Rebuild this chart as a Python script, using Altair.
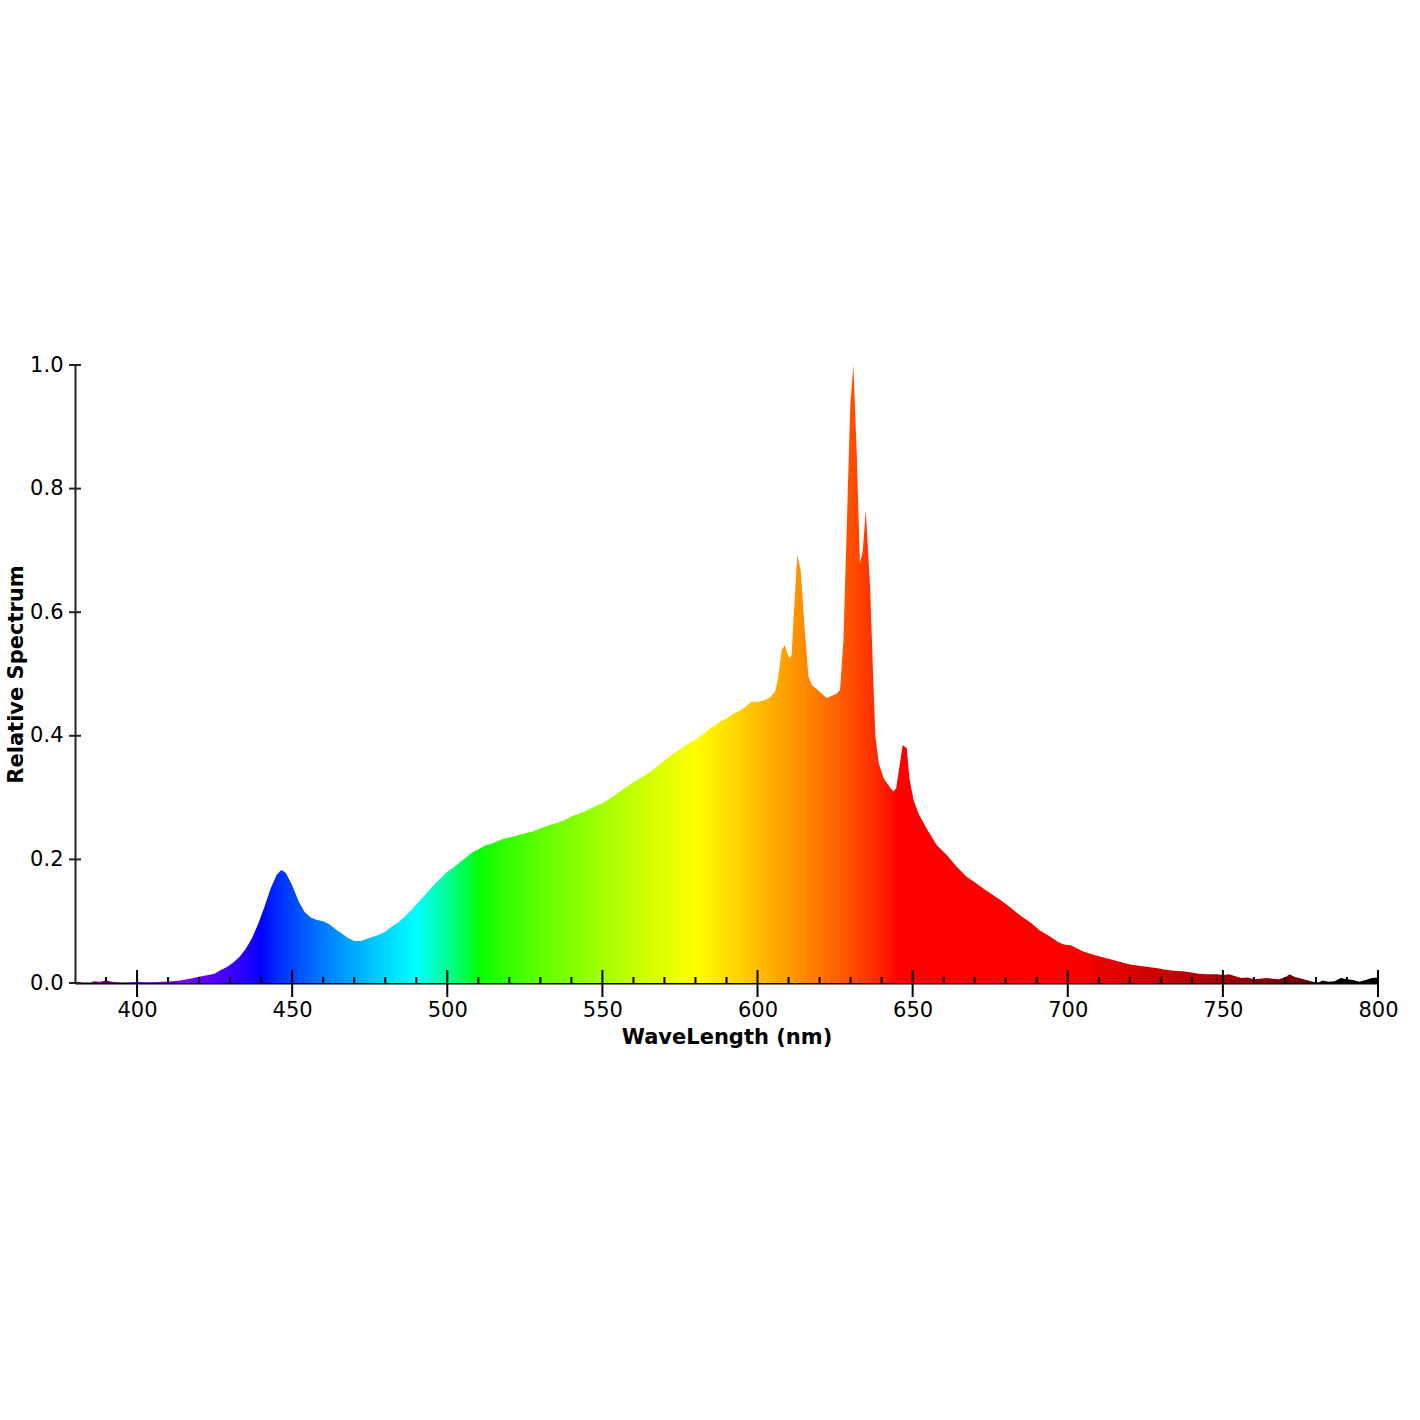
import altair as alt
import pandas as pd

# ---- data ----
wavelength = [385, 386, 388, 390, 392, 395, 398, 400, 403, 405, 408, 411, 414, 417, 420, 423, 425, 427, 429, 431,
              433, 435, 437, 439, 441, 443, 445, 446.5, 448, 450, 452, 454, 456, 458, 460, 462, 464, 466, 468, 470,
              472, 474, 476, 478, 480, 482, 484, 486, 488, 490, 492, 494, 496, 498, 500, 502, 504, 506, 508, 510,
              512, 514, 516, 518, 520, 522, 524, 526, 528, 530, 532, 534, 536, 538, 540, 542, 544, 546, 548, 550,
              552, 554, 556, 558, 560, 562, 564, 566, 568, 570, 572, 574, 576, 578, 580, 582, 584, 586, 588, 590,
              592, 594, 596, 598, 600, 602, 604, 605.6, 606.5, 607.8, 608.8, 610.2, 611, 611.5, 612.8, 613.9, 615.3,
              616.4, 617.5, 620.1, 622.3, 625.5, 626.6, 627.7, 628.8, 629.9, 630.9, 632, 633, 633.9, 634.9, 636.3,
              637.4, 638, 639.1, 640.7, 642.9, 643.8, 644.7, 646.8, 648.1, 649, 650.3, 651.8, 654.5, 657.8, 661,
              664.2, 667.4, 670, 673, 676, 679, 682, 685, 688, 691, 694, 697, 699, 701, 703, 705, 708, 711, 714,
              717, 720, 723, 726, 729, 731, 734, 737, 740, 742, 745, 748, 750, 752, 754, 756, 758, 760, 762, 764,
              766, 768, 770, 771.5, 773, 776, 779, 781, 782, 784, 786, 788, 790, 792, 794, 796, 798, 800]
relative = [0.0, 0.003, 0.002, 0.004, 0.002, 0.0, 0.001, 0.002, 0.001, 0.001, 0.002, 0.003, 0.004, 0.007, 0.010,
            0.013, 0.015, 0.021, 0.026, 0.033, 0.042, 0.055, 0.072, 0.095, 0.122, 0.152, 0.175, 0.183, 0.178, 0.158,
            0.133, 0.115, 0.106, 0.102, 0.100, 0.095, 0.087, 0.080, 0.073, 0.068, 0.068, 0.071, 0.075, 0.078, 0.083,
            0.091, 0.097, 0.106, 0.116, 0.127, 0.138, 0.149, 0.160, 0.170, 0.180, 0.187, 0.195, 0.203, 0.211, 0.216,
            0.222, 0.225, 0.229, 0.233, 0.236, 0.238, 0.241, 0.243, 0.246, 0.250, 0.254, 0.257, 0.260, 0.264, 0.270,
            0.273, 0.277, 0.282, 0.287, 0.291, 0.297, 0.304, 0.311, 0.318, 0.325, 0.331, 0.337, 0.344, 0.352, 0.360,
            0.368, 0.375, 0.382, 0.388, 0.394, 0.401, 0.409, 0.416, 0.423, 0.428, 0.435, 0.440, 0.446, 0.455, 0.455,
            0.457, 0.462, 0.471, 0.490, 0.539, 0.547, 0.525, 0.530, 0.580, 0.693, 0.668, 0.566, 0.496, 0.482, 0.471,
            0.461, 0.468, 0.474, 0.555, 0.746, 0.935, 1.0, 0.854, 0.679, 0.698, 0.765, 0.639, 0.477, 0.399, 0.355,
            0.331, 0.315, 0.310, 0.315, 0.385, 0.380, 0.330, 0.296, 0.275, 0.250, 0.223, 0.207, 0.188, 0.172, 0.163,
            0.152, 0.142, 0.132, 0.120, 0.108, 0.098, 0.085, 0.076, 0.066, 0.062, 0.061, 0.056, 0.051, 0.046, 0.042,
            0.038, 0.034, 0.030, 0.028, 0.026, 0.024, 0.022, 0.020, 0.019, 0.017, 0.015, 0.014, 0.014, 0.013, 0.014,
            0.011, 0.008, 0.009, 0.006, 0.007, 0.008, 0.007, 0.006, 0.009, 0.014, 0.010, 0.006, 0.002, 0.001, 0.004,
            0.002, 0.003, 0.008, 0.006, 0.005, 0.002, 0.005, 0.008, 0.009]

x_major = [400, 450, 500, 550, 600, 650, 700, 750, 800]
x_minor = [390, 410, 420, 430, 440, 460, 470, 480, 490, 510, 520, 530, 540, 560, 570, 580, 590, 610, 620, 630,
           640, 660, 670, 680, 690, 710, 720, 730, 740, 760, 770, 780, 790]
y_ticks = [0.0, 0.2, 0.4, 0.6, 0.8, 1.0]

X_DOMAIN = [380, 800]
W, H = 1303, 618
FONT = "DejaVu Sans"
FS = 21


def wl_to_hex(w):
    """Classic wavelength -> RGB approximation (gamma 0.8)."""
    if 380 <= w < 440:
        r, g, b = -(w - 440) / 60.0, 0.0, 1.0
    elif 440 <= w < 490:
        r, g, b = 0.0, (w - 440) / 50.0, 1.0
    elif 490 <= w < 510:
        r, g, b = 0.0, 1.0, -(w - 510) / 20.0
    elif 510 <= w < 580:
        r, g, b = (w - 510) / 70.0, 1.0, 0.0
    elif 580 <= w < 645:
        r, g, b = 1.0, -(w - 645) / 65.0, 0.0
    elif 645 <= w <= 780:
        r, g, b = 1.0, 0.0, 0.0
    else:
        r, g, b = 0.0, 0.0, 0.0
    if 380 <= w < 420:
        f = 0.3 + 0.7 * (w - 380) / 40.0
    elif 420 <= w <= 700:
        f = 1.0
    elif 700 < w <= 780:
        f = 0.3 + 0.7 * (780 - w) / 80.0
    else:
        f = 0.0

    def c(v):
        return int(round(255 * ((v * f) ** 0.8))) if v > 0 else 0

    return "#{:02x}{:02x}{:02x}".format(c(r), c(g), c(b))


wmin, wmax = min(wavelength), max(wavelength)
stops = []
for w in range(int(wmin), int(wmax) + 1):
    stops.append(alt.GradientStop(color=wl_to_hex(w), offset=(w - wmin) / (wmax - wmin)))

spec = pd.DataFrame({"wl": wavelength, "val": relative})
major_df = pd.DataFrame({"t": x_major})
minor_df = pd.DataFrame({"t": x_minor})
yt_df = pd.DataFrame({"t": y_ticks})

xscale = alt.Scale(domain=X_DOMAIN, nice=False, zero=False)
yscale = alt.Scale(domain=[0, 1], nice=False)

area = alt.Chart(spec).mark_area(
    interpolate="linear",
    color=alt.Gradient(gradient="linear", stops=stops, x1=0, x2=1, y1=0, y2=0),
).encode(
    x=alt.X("wl:Q", scale=xscale,
            axis=alt.Axis(values=x_major, format="d", title="WaveLength (nm)", ticks=False,
                          grid=False, domainColor="#000000", domainWidth=2, labelFlush=False,
                          labelFont=FONT, labelFontSize=FS, labelColor="#000000", labelPadding=16,
                          titleFont=FONT, titleFontSize=FS, titleFontWeight="bold", titleColor="#000000",
                          titlePadding=6)),
    y=alt.Y("val:Q", scale=yscale,
            axis=alt.Axis(values=y_ticks, format=".1f", title="Relative Spectrum", ticks=False,
                          grid=False, domainColor="#222222", domainWidth=2, labelFlush=False,
                          labelFont=FONT, labelFontSize=FS, labelColor="#000000", labelPadding=12,
                          titleFont=FONT, titleFontSize=FS, titleFontWeight="bold", titleColor="#000000",
                          titlePadding=3)),
)

major = alt.Chart(major_df).mark_rule(color="#000000", strokeWidth=2).encode(
    x=alt.X("t:Q", scale=xscale), y=alt.value(H - 13), y2=alt.value(H + 14)
)
minor = alt.Chart(minor_df).mark_rule(color="#000000", strokeWidth=2).encode(
    x=alt.X("t:Q", scale=xscale), y=alt.value(H - 6), y2=alt.value(H)
)
yt = alt.Chart(yt_df).mark_rule(color="#222222", strokeWidth=2).encode(
    y=alt.Y("t:Q", scale=yscale), x=alt.value(-6), x2=alt.value(6)
)

chart = alt.layer(area, major, minor, yt).properties(
    width=W, height=H,
    background="white",
    autosize=alt.AutoSizeParams(type="none"),
    padding={"left": 75, "top": 365, "right": 42, "bottom": 437},
).configure_view(strokeWidth=0, stroke="transparent")

chart.save("out.html", embed_options={"renderer": "svg", "actions": False})
